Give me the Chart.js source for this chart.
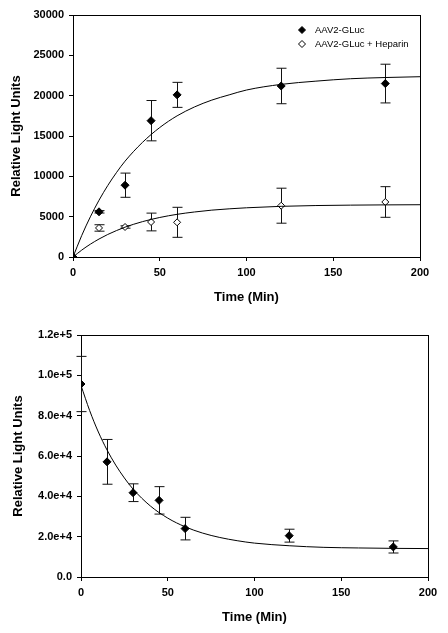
<!DOCTYPE html>
<html>
<head>
<meta charset="utf-8">
<script src="https://cdn.jsdelivr.net/npm/chart.js@4"></script>
<style>
  body { margin: 0; background: #fff; }
  .box { position: absolute; left: 0; width: 448px; }
  #top { top: 0; height: 305px; }
  #bottom { top: 310px; height: 323px; }
</style>
</head>
<body>
<div class="box" id="top"><canvas id="bindingChart" width="448" height="305"></canvas></div>
<div class="box" id="bottom"><canvas id="decayChart" width="448" height="323"></canvas></div>
<script>
// measured points (Time in min)
const timePts = [0, 15, 30, 45, 60, 120, 180];
const glucMean = [0, 5600, 8900, 16900, 20100, 21200, 21500];
const glucErr = [0, 150, 1500, 2500, 1550, 2200, 2400];
const heparinMean = [0, 3600, 3720, 4340, 4300, 6360, 6820];
const heparinErr = [0, 400, 150, 1100, 1860, 2170, 1900];

// fitted curves
const fitTime = [0, 5, 10, 15, 20, 25, 30, 40, 50, 60, 70, 80, 90, 100, 120, 140, 160, 180, 200];
const glucFit = [0, 2650, 4980, 7040, 8850, 10450, 11880, 14200, 16050, 17500, 18600, 19450, 20100, 20700, 21400, 21800, 22100, 22250, 22350];
const heparinFit = [0, 850, 1590, 2230, 2790, 3270, 3700, 4380, 4900, 5290, 5580, 5810, 5970, 6100, 6280, 6380, 6430, 6460, 6480];

// second panel
const decayMean = [95700, 57100, 41800, 38000, 24000, 20500, 14900];
const decayErr = [13700, 11100, 4400, 6800, 5600, 3200, 3000];
const decayFit = [95000, 82500, 71900, 63000, 55500, 49100, 43600, 35200, 29200, 24900, 21800, 19600, 18000, 16800, 15500, 14700, 14400, 14200, 14100];

const xTicks = [0, 50, 100, 150, 200];
const yTicksTop = [0, 5000, 10000, 15000, 20000, 25000, 30000];
const yTicksBottom = [0, 20000, 40000, 60000, 80000, 100000, 120000];
const yLabelsBottom = ['0.0', '2.0e+4', '4.0e+4', '6.0e+4', '8.0e+4', '1.0e+5', '1.2e+5'];

const legendNames = ['AAV2-GLuc', 'AAV2-GLuc + Heparin'];

const FONT = '"Liberation Sans", Arial, sans-serif';

const toXY = (xs, ys) => xs.map((x, i) => ({ x: x, y: ys[i] }));

// frame + error bars
const framePlugin = {
  id: 'frame',
  beforeDatasetsDraw(chart) {
    const { ctx, chartArea: a, scales } = chart;
    ctx.save();
    ctx.strokeStyle = '#000';
    ctx.lineWidth = 1;
    ctx.strokeRect(a.left + 0.5, a.top + 0.5, a.right - a.left, a.bottom - a.top);
    chart.data.datasets.forEach(ds => {
      if (!ds.errors) return;
      ds.data.forEach((p, i) => {
        const e = ds.errors[i];
        if (!e) return;
        const x = Math.round(scales.x.getPixelForValue(p.x)) + 0.5;
        const y1 = scales.y.getPixelForValue(p.y + e);
        const y2 = scales.y.getPixelForValue(p.y - e);
        ctx.strokeStyle = '#111';
        ctx.beginPath();
        ctx.moveTo(x, y1); ctx.lineTo(x, y2);
        ctx.moveTo(x - 5, y1); ctx.lineTo(x + 5, y1);
        ctx.moveTo(x - 5, y2); ctx.lineTo(x + 5, y2);
        ctx.stroke();
      });
    });
    ctx.restore();
  }
};

const legendPlugin = {
  id: 'boxLegend',
  afterDraw(chart) {
    if (chart.canvas.id !== 'bindingChart') return;
    const ctx = chart.ctx;
    ctx.save();
    const rows = [
      { y: 30, fill: '#000' },
      { y: 44, fill: '#fff' }
    ];
    rows.forEach((r, i) => {
      ctx.fillStyle = r.fill;
      ctx.strokeStyle = '#000';
      ctx.lineWidth = 1;
      Chart.helpers.drawPoint(ctx, { pointStyle: 'rectRot', radius: 3.5, rotation: 0, borderWidth: 1 }, 302, r.y);
      ctx.fillStyle = '#000';
      ctx.font = '9.5px ' + FONT;
      ctx.textBaseline = 'middle';
      ctx.fillText(legendNames[i], 315, r.y);
    });
    ctx.restore();
  }
};

const makeScales = (yTicks, yLabels, leftW, bottomH, xTitlePad, yTitlePad) => ({
  x: {
    type: 'linear', min: 0, max: 200,
    afterBuildTicks: s => { s.ticks = xTicks.map(v => ({ value: v })); },
    afterFit: s => { s.height = bottomH; },
    grid: { drawOnChartArea: false, drawTicks: true, tickLength: 4, color: '#000' },
    border: { display: true, color: '#000' },
    ticks: { color: '#000', padding: 5, font: { family: FONT, size: 11, weight: 'bold' } },
    title: { display: true, text: 'Time (Min)', color: '#000', padding: { top: 0, bottom: xTitlePad }, font: { family: FONT, size: 13, weight: 'bold' } }
  },
  y: {
    type: 'linear', min: 0, max: yTicks[yTicks.length - 1],
    afterBuildTicks: s => { s.ticks = yTicks.map(v => ({ value: v })); },
    afterFit: s => { s.width = leftW; },
    grid: { drawOnChartArea: false, drawTicks: true, tickLength: 4, color: '#000' },
    border: { display: true, color: '#000' },
    ticks: {
      color: '#000', padding: 5, font: { family: FONT, size: 11, weight: 'bold' },
      callback: (v) => yLabels ? yLabels[yTicks.indexOf(v)] : String(v)
    },
    title: { display: true, text: 'Relative Light Units', color: '#000', padding: { top: yTitlePad, bottom: 0 }, font: { family: FONT, size: 13, weight: 'bold' } }
  }
});

const baseOptions = (scales, pad) => ({
  responsive: false,
  animation: false,
  layout: { padding: pad },
  plugins: { legend: { display: false }, tooltip: { enabled: false } },
  scales: scales
});

const curve = (xs, ys) => ({
  type: 'line',
  data: toXY(xs, ys),
  borderColor: '#000',
  borderWidth: 1,
  pointRadius: 0,
  cubicInterpolationMode: 'monotone',
  fill: false
});

new Chart(document.getElementById('bindingChart'), {
  type: 'scatter',
  data: {
    datasets: [
      curve(fitTime, glucFit),
      curve(fitTime, heparinFit),
      {
        label: legendNames[0],
        data: toXY(timePts, glucMean),
        errors: glucErr,
        pointStyle: 'rectRot', pointRadius: 4,
        backgroundColor: '#000', borderColor: '#000', borderWidth: 1
      },
      {
        label: legendNames[1],
        data: toXY(timePts, heparinMean),
        errors: heparinErr,
        pointStyle: 'rectRot', pointRadius: 3.5,
        backgroundColor: '#fff', borderColor: '#000', borderWidth: 1
      }
    ]
  },
  options: baseOptions(makeScales(yTicksTop, null, 73, 48, 0, 9), { top: 15, right: 28, left: 0, bottom: 0 }),
  plugins: [framePlugin, legendPlugin]
});

new Chart(document.getElementById('decayChart'), {
  type: 'scatter',
  data: {
    datasets: [
      curve(fitTime, decayFit),
      {
        label: 'AAV2-GLuc',
        data: toXY(timePts, decayMean),
        errors: decayErr,
        pointStyle: 'rectRot', pointRadius: 4,
        backgroundColor: '#000', borderColor: '#000', borderWidth: 1
      }
    ]
  },
  options: baseOptions(makeScales(yTicksBottom, yLabelsBottom, 81, 56, 8, 11), { top: 25, right: 20, left: 0, bottom: 0 }),
  plugins: [framePlugin]
});
</script>
</body>
</html>
